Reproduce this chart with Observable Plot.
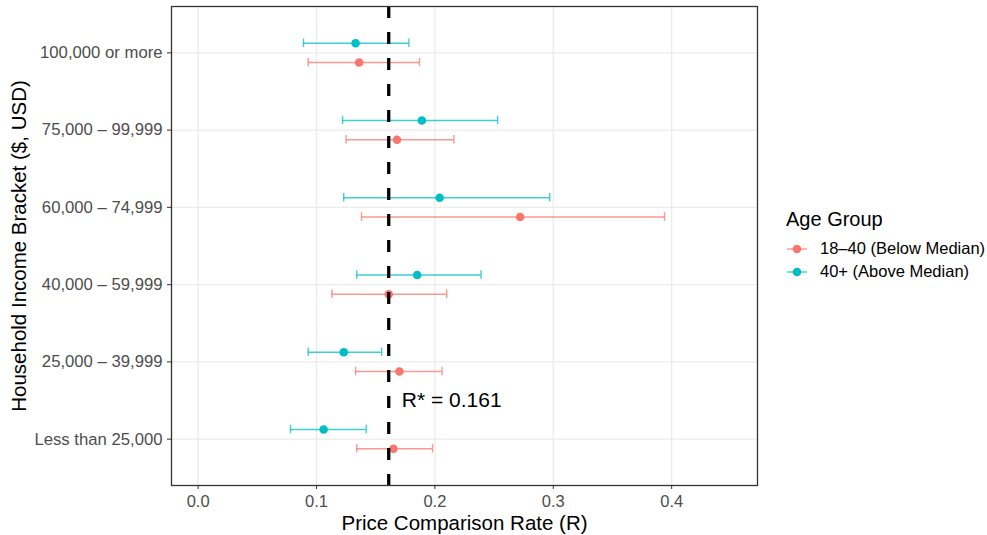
<!DOCTYPE html>
<html><head><meta charset="utf-8">
<script src="https://cdn.jsdelivr.net/npm/d3@7"></script>
<script src="https://cdn.jsdelivr.net/npm/@observablehq/plot@0.6"></script>
<style>
body{margin:0;background:#fff;font-family:"Liberation Sans",Arial,Helvetica,sans-serif;}
#wrap{position:relative;width:987px;height:535px;}
#legend{position:absolute;left:786px;top:207px;color:#000;}
#legend .title{font-size:20px;line-height:24px;margin-bottom:6px;}
#legend .item{display:flex;align-items:center;height:23px;font-size:16.5px;}
#legend svg{margin-right:12px;}
</style></head><body><div id="wrap"></div>
<script>
const brackets = ["100,000 or more","75,000 – 99,999","60,000 – 74,999","40,000 – 59,999","25,000 – 39,999","Less than 25,000"];
const groups = ["18–40 (Below Median)","40+ (Above Median)"];
const groupColors = ["#F8766D","#00BFC4"];
// 18–40 (Below Median)
const youngEst = [0.136,0.168,0.272,0.161,0.170,0.165];
const youngLo  = [0.093,0.125,0.138,0.113,0.133,0.134];
const youngHi  = [0.187,0.216,0.394,0.210,0.206,0.198];
// 40+ (Above Median)
const oldEst = [0.133,0.189,0.204,0.185,0.123,0.106];
const oldLo  = [0.089,0.122,0.123,0.134,0.093,0.078];
const oldHi  = [0.178,0.253,0.297,0.239,0.155,0.142];
const rStar = 0.161;
const rStarLabel = "R* = 0.161";
const xTicks = [0, 0.1, 0.2, 0.3, 0.4];

const n = brackets.length;
const dodge = 0.125;
const rows = [];
brackets.forEach((b, i) => {
  const base = n - i;
  rows.push({bracket: b, group: groups[0], est: youngEst[i], lo: youngLo[i], hi: youngHi[i], pos: base - dodge});
  rows.push({bracket: b, group: groups[1], est: oldEst[i], lo: oldLo[i], hi: oldHi[i], pos: base + dodge});
});
const yTicks = brackets.map((b, i) => n - i);
const labelOf = v => brackets[n - v];
const capHalf = 0.055;

const chart = Plot.plot({
  width: 987,
  height: 535,
  marginLeft: 171,
  marginRight: 230,
  marginTop: 6,
  marginBottom: 50,
  style: {fontFamily: '"Liberation Sans", Arial, Helvetica, sans-serif', background: "#fff"},
  x: {domain: [-0.0225, 0.4725]},
  y: {domain: [0.4, n + 0.6]},
  color: {domain: groups, range: groupColors},
  marks: [
    Plot.gridX(xTicks, {stroke: "#EBEBEB", strokeOpacity: 1, strokeWidth: 1.3}),
    Plot.gridY(yTicks, {stroke: "#EBEBEB", strokeOpacity: 1, strokeWidth: 1.3}),
    Plot.ruleY(rows, {y: "pos", x1: "lo", x2: "hi", stroke: "group", strokeOpacity: 0.75, strokeWidth: 1.4}),
    Plot.ruleX(rows, {x: "lo", y1: d => d.pos - capHalf, y2: d => d.pos + capHalf, stroke: "group", strokeOpacity: 0.75, strokeWidth: 1.4}),
    Plot.ruleX(rows, {x: "hi", y1: d => d.pos - capHalf, y2: d => d.pos + capHalf, stroke: "group", strokeOpacity: 0.75, strokeWidth: 1.4}),
    Plot.dot(rows, {x: "est", y: "pos", fill: "group", r: 4.3}),
    Plot.ruleX([rStar], {stroke: "black", strokeWidth: 3.3, strokeDasharray: "12,14"}),
    Plot.text([rStarLabel], {x: rStar + 0.011, y: 1.5, text: d => d, textAnchor: "start", fontSize: 21, fill: "black"}),
    Plot.axisX(xTicks, {
      tickFormat: d3.format(".1f"), tickSize: 4, tickPadding: 6, fontSize: 16.5, color: "#4D4D4D", stroke: "#333",
      label: null
    }),
    Plot.axisY(yTicks, {
      tickFormat: labelOf, tickSize: 4, tickPadding: 5, fontSize: 16.7, color: "#4D4D4D", stroke: "#333",
      label: null
    }),
    Plot.text(["Price Comparison Rate (R)"], {frameAnchor: "bottom", dy: 38, lineAnchor: "middle", text: d => d, fontSize: 20.5, fill: "black"}),
    Plot.text(["Household Income Bracket ($, USD)"], {frameAnchor: "left", dx: -152, rotate: -90, textAnchor: "middle", text: d => d, fontSize: 20.5, fill: "black"}),
    Plot.frame({stroke: "#333", strokeWidth: 1.3})
  ]
});
chart.querySelectorAll("g[aria-label='y-axis tick label'] text, g[aria-label='x-axis tick label'] text").forEach(t => t.setAttribute("fill", "#4D4D4D"));
const wrap = document.getElementById("wrap");
wrap.appendChild(chart);

const legend = document.createElement("div");
legend.id = "legend";
let html = '<div class="title">Age Group</div>';
groups.forEach((g, i) => {
  html += `<div class="item"><svg width="22" height="12"><line x1="1" x2="21" y1="6" y2="6" stroke="${groupColors[i]}" stroke-opacity="0.75" stroke-width="1.4"/><circle cx="11" cy="6" r="4.3" fill="${groupColors[i]}"/></svg><span>${g}</span></div>`;
});
legend.innerHTML = html;
wrap.appendChild(legend);
</script>
</body></html>
